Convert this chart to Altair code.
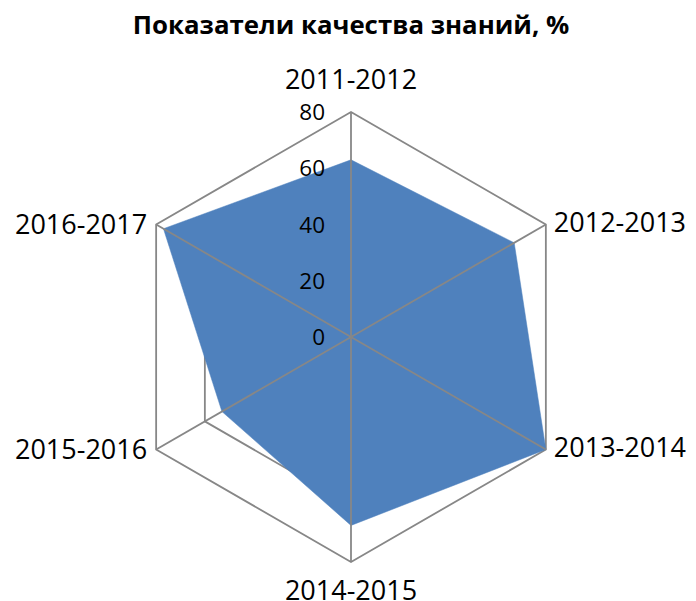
import altair as alt
import pandas as pd

title_text = "Показатели качества знаний, %"
categories = ["2011-2012", "2012-2013", "2013-2014", "2014-2015", "2015-2016", "2016-2017"]
values = [63, 67, 80, 67, 53, 77]
ticks = [0, 20, 40, 60, 80]
grid_levels = [20, 40, 60, 80]
rmax = 80

FONT = "Open Sans"
GRID = "#878787"
FILL = "#4F81BD"
LABEL_SIZE = 27

n = len(categories)
df = pd.DataFrame({"category": categories, "value": values, "idx": list(range(n))})
grid_df = pd.DataFrame(
    [{"level": lv, "idx": i} for lv in grid_levels for i in range(n)]
)
spoke_df = pd.DataFrame({"idx": list(range(n)), "r": [rmax] * n})
tick_df = pd.DataFrame({"tick": ticks, "label": [str(t) for t in ticks]})

W, H = 680, 593
cx, cy = 343, 329          # centre in plot coordinates
ppu = 225 / rmax           # pixels per unit
xs = alt.Scale(domain=[-cx / ppu, (W - cx) / ppu], nice=False, zero=False)
ys = alt.Scale(domain=[-(H - cy) / ppu, cy / ppu], nice=False, zero=False)

ang = "datum.idx * PI / 3"

grid = alt.Chart(grid_df).transform_calculate(
    gx=f"datum.level * sin({ang})", gy=f"datum.level * cos({ang})"
).mark_line(interpolate="linear-closed", color=GRID, strokeWidth=1.8).encode(
    x=alt.X("gx:Q", scale=xs, axis=None),
    y=alt.Y("gy:Q", scale=ys, axis=None),
    detail="level:N",
    order="idx:Q",
)

area = alt.Chart(df).transform_calculate(
    px=f"datum.value * sin({ang})", py=f"datum.value * cos({ang})"
).mark_line(interpolate="linear-closed", fill=FILL, stroke=FILL, strokeWidth=0.5, fillOpacity=1).encode(
    x=alt.X("px:Q", scale=xs, axis=None),
    y=alt.Y("py:Q", scale=ys, axis=None),
    order="idx:Q",
)

spokes = alt.Chart(spoke_df).transform_calculate(
    x0="0", y0="0",
    sx=f"datum.r * sin({ang})", sy=f"datum.r * cos({ang})"
).mark_rule(color=GRID, strokeWidth=1.8).encode(
    x=alt.X("x0:Q", scale=xs, axis=None),
    y=alt.Y("y0:Q", scale=ys, axis=None),
    x2="sx:Q",
    y2="sy:Q",
)

tick_labels = alt.Chart(tick_df).transform_calculate(x0="0").mark_text(
    align="right", baseline="middle", dx=-26, dy=1, font=FONT, fontSize=22.5, color="#000000"
).encode(
    x=alt.X("x0:Q", scale=xs, axis=None),
    y=alt.Y("tick:Q", scale=ys, axis=None),
    text="label:N",
)

lab_base = alt.Chart(df).transform_calculate(
    lx=f"{rmax} * sin({ang})", ly=f"{rmax} * cos({ang})"
)
lab_enc = dict(
    x=alt.X("lx:Q", scale=xs, axis=None),
    y=alt.Y("ly:Q", scale=ys, axis=None),
    text="category:N",
)
lab_top = lab_base.transform_filter("datum.idx == 0").mark_text(
    align="center", baseline="middle", dy=-31, font=FONT, fontSize=LABEL_SIZE, color="#000000"
).encode(**lab_enc)
lab_bottom = lab_base.transform_filter("datum.idx == 3").mark_text(
    align="center", baseline="middle", dy=30, font=FONT, fontSize=LABEL_SIZE, color="#000000"
).encode(**lab_enc)
lab_right = lab_base.transform_filter("datum.idx == 1 || datum.idx == 2").mark_text(
    align="left", baseline="middle", dx=8, dy=-1, font=FONT, fontSize=LABEL_SIZE, color="#000000"
).encode(**lab_enc)
lab_left = lab_base.transform_filter("datum.idx == 4 || datum.idx == 5").mark_text(
    align="right", baseline="middle", dx=-9, dy=1, font=FONT, fontSize=LABEL_SIZE, color="#000000"
).encode(**lab_enc)

title = alt.Chart(pd.DataFrame({"t": [title_text]})).mark_text(
    align="center", baseline="middle", font=FONT, fontSize=25.8, fontWeight="bold", color="#000000"
).encode(x=alt.value(343), y=alt.value(18), text="t:N")

chart = alt.layer(
    grid, area, spokes, tick_labels, lab_top, lab_bottom, lab_right, lab_left, title
).properties(
    width=W, height=H, autosize="none", padding=0
).configure_view(stroke=None)

chart.save("out.html", embed_options={"renderer": "svg", "actions": False})
